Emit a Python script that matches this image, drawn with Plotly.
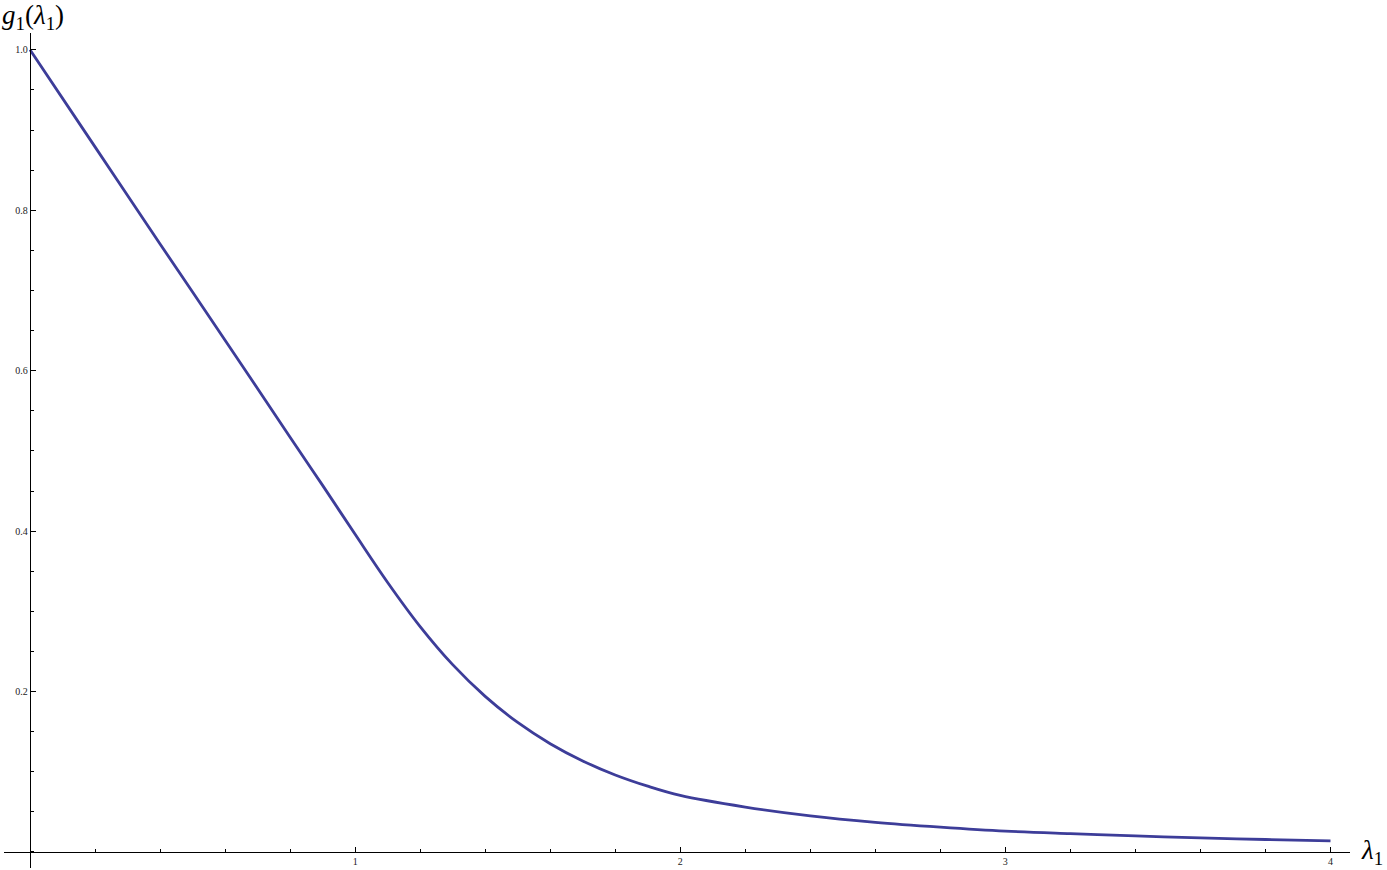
import plotly.graph_objects as go

# curve
lam = [0, 0.2, 0.4, 0.6, 0.8, 0.9, 1.0, 1.1, 1.2, 1.3, 1.4, 1.5, 1.6, 1.7, 1.8, 1.9,
       2.0, 2.2, 2.4, 2.6, 2.8, 3.0, 3.2, 3.4, 3.6, 3.8, 4.0]
g1 = [1.0, 0.879, 0.758, 0.638, 0.517, 0.457, 0.396, 0.336, 0.281, 0.2335, 0.194,
      0.1615, 0.135, 0.1135, 0.096, 0.082, 0.0705, 0.056, 0.045, 0.037, 0.031, 0.026,
      0.0228, 0.0200, 0.0176, 0.0155, 0.0137]

x_ticks = [1, 2, 3, 4]
x_labels = ["1", "2", "3", "4"]
y_ticks = [0.2, 0.4, 0.6, 0.8, 1.0]
y_labels = ["0.2", "0.4", "0.6", "0.8", "1.0"]

x_range = [-0.08, 4.06]
y_range = [-0.02, 1.021]

fig = go.Figure()
fig.add_trace(go.Scatter(
    x=lam, y=g1, mode="lines",
    line=dict(color="#3d3d99", width=2.8, shape="spline", smoothing=1.0),
    showlegend=False, hoverinfo="skip",
))

tick_font = dict(family="Liberation Serif", size=10, color="#222222")

fig.update_layout(
    width=1387, height=870,
    margin=dict(l=4, r=37, t=33, b=2, autoexpand=False),
    plot_bgcolor="white", paper_bgcolor="white",
    xaxis=dict(
        range=x_range, anchor="free",
        position=(0 - y_range[0]) / (y_range[1] - y_range[0]),
        showgrid=False, zeroline=False,
        showline=True, linecolor="black", linewidth=1.3,
        ticks="inside", ticklen=5, tickwidth=1, tickcolor="black",
        tickvals=x_ticks, ticktext=x_labels, tickfont=tick_font,
        minor=dict(dtick=0.2, tick0=0, ticks="inside", ticklen=2.5,
                   tickcolor="black", tickwidth=1),
    ),
    yaxis=dict(
        range=y_range, anchor="free",
        position=(0 - x_range[0]) / (x_range[1] - x_range[0]),
        showgrid=False, zeroline=False,
        showline=True, linecolor="black", linewidth=1.3,
        ticks="inside", ticklen=5, tickwidth=1, tickcolor="black",
        tickvals=y_ticks, ticktext=y_labels, tickfont=tick_font,
        minor=dict(dtick=0.05, tick0=0, ticks="inside", ticklen=2.5,
                   tickcolor="black", tickwidth=1),
    ),
    annotations=[
        dict(text="<i>g</i><sub>1</sub>(<i>λ</i><sub>1</sub>)",
             xref="paper", yref="paper", x=-0.003, y=1.0, xanchor="left",
             yanchor="bottom", yshift=-3, showarrow=False,
             font=dict(family="Liberation Serif", size=27, color="black")),
        dict(text="<i>λ</i><sub>1</sub>",
             xref="paper", yref="y", x=1.0, y=0, xanchor="left",
             yanchor="middle", xshift=9, showarrow=False,
             font=dict(family="Liberation Serif", size=27, color="black")),
    ],
)

# drop the page's default 8px body margin so the figure fills the window
fig.write_html("out.html", config={"displayModeBar": False},
               post_script="document.body.style.margin='0px';")
